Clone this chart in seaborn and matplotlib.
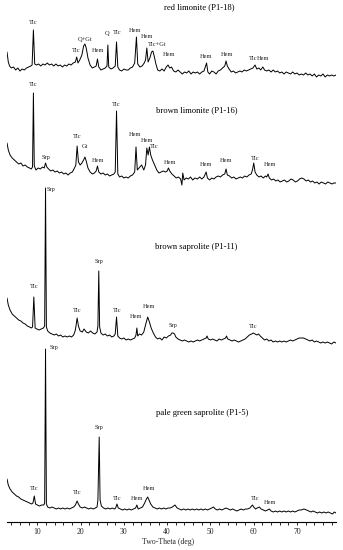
import matplotlib
matplotlib.use("Agg")
import numpy as np
import pandas as pd
import seaborn as sns
import matplotlib.pyplot as plt
from matplotlib.ticker import MultipleLocator

sns.set_style("white")
plt.rcParams['font.family'] = ['Liberation Serif', 'DejaVu Serif']

# ---------------- data ----------------
samples = ["red limonite (P1-18)", "brown limonite (P1-16)",
           "brown saprolite (P1-11)", "pale green saprolite (P1-5)"]

red_tt = [3.0, 3.3, 3.6, 4.0, 4.5, 5.0, 5.5, 6.0, 6.5, 7.0,
          7.5, 8.0, 8.5, 8.8, 9.1, 9.4, 9.8, 10.3, 10.8, 11.3,
          11.8, 12.3, 12.8, 13.3, 13.8, 14.3, 14.8, 15.3, 15.8, 16.3,
          16.8, 17.3, 17.8, 18.3, 18.8, 19.1, 19.4, 19.8, 20.3, 20.7,
          21.0, 21.3, 21.7, 22.2, 22.7, 23.2, 23.6, 23.9, 24.2, 24.7,
          25.2, 25.7, 26.1, 26.3, 26.5, 27.0, 27.5, 28.0, 28.3, 28.6,
          29.0, 29.5, 30.0, 30.5, 31.0, 31.5, 32.0, 32.5, 32.9, 33.2,
          33.7, 34.2, 34.7, 35.0, 35.3, 35.6, 36.0, 36.4, 36.7, 37.0,
          37.4, 37.8, 38.3, 38.8, 39.3, 39.8, 40.2, 40.6, 41.0, 41.5,
          42.0, 42.5, 43.0, 43.5, 44.0, 44.5, 45.0, 45.5, 46.0, 46.5,
          47.0, 47.5, 48.0, 48.5, 49.1, 49.4, 49.8, 50.3, 50.8, 51.3,
          51.8, 52.3, 52.8, 53.3, 53.6, 53.9, 54.3, 54.8, 55.3, 55.8,
          56.3, 56.8, 57.3, 57.8, 58.3, 58.8, 59.3, 59.8, 60.3, 60.7,
          61.2, 61.6, 62.1, 62.5, 63.0, 63.5, 64.0, 64.5, 65.0, 65.5,
          66.0, 66.5, 67.0, 67.5, 68.0, 68.5, 69.0, 69.5, 70.0, 70.5,
          71.0, 71.5, 72.0, 72.5, 73.0, 73.5, 74.0, 74.5, 75.0, 75.5,
          76.0, 76.5, 77.0, 77.5, 78.0, 78.5, 79.0]
red_int = [28, 18, 14, 12, 13, 10, 12, 9, 11, 10,
           12, 13, 14, 15, 50, 16, 15, 16, 14, 16,
           15, 17, 15, 16, 14, 16, 14, 15, 13, 15,
           14, 16, 15, 17, 18, 23, 17, 20, 25, 34,
           36, 32, 22, 15, 12, 13, 14, 21, 13, 10,
           11, 12, 14, 35, 13, 11, 12, 14, 38, 13,
           10, 9, 11, 10, 10, 12, 13, 17, 43, 16,
           13, 14, 17, 20, 32, 18, 22, 28, 29, 24,
           16, 10, 9, 11, 9, 13, 15, 12, 13, 9,
           8, 10, 8, 6, 8, 7, 9, 6, 8, 7,
           8, 6, 8, 9, 17, 8, 6, 9, 8, 6,
           9, 10, 12, 14, 19, 14, 11, 8, 9, 7,
           8, 9, 8, 10, 9, 10, 11, 12, 15, 11,
           12, 10, 13, 10, 9, 10, 8, 10, 8, 9,
           7, 8, 6, 8, 7, 6, 8, 6, 7, 5,
           6, 5, 7, 5, 6, 4, 6, 3, 5, 4,
           6, 3, 5, 4, 5, 4, 5]

brl_tt = [3.0, 3.3, 3.7, 4.2, 4.7, 5.2, 5.7, 6.2, 6.7, 7.2,
          7.7, 8.2, 8.6, 8.9, 9.1, 9.3, 9.7, 10.2, 10.7, 11.2,
          11.6, 11.9, 12.2, 12.6, 13.1, 13.6, 14.1, 14.6, 15.1, 15.6,
          16.1, 16.6, 17.1, 17.6, 18.1, 18.6, 18.9, 19.2, 19.5, 19.9,
          20.3, 20.7, 21.0, 21.3, 21.7, 22.2, 22.7, 23.2, 23.6, 23.9,
          24.2, 24.7, 25.2, 25.7, 26.2, 26.7, 27.2, 27.7, 28.0, 28.3,
          28.6, 29.0, 29.5, 30.0, 30.5, 31.0, 31.5, 32.0, 32.5, 32.8,
          33.1, 33.5, 34.1, 34.6, 35.0, 35.3, 35.6, 35.9, 36.2, 36.6,
          37.1, 37.6, 38.1, 38.6, 39.1, 39.6, 40.0, 40.3, 40.6, 41.1,
          41.6, 42.1, 42.6, 43.1, 43.4, 43.6, 43.9, 44.4, 44.9, 45.4,
          45.9, 46.4, 47.0, 47.5, 48.0, 48.5, 49.0, 49.3, 49.8, 50.3,
          50.8, 51.3, 51.8, 52.3, 52.8, 53.3, 53.6, 53.9, 54.4, 54.9,
          55.4, 55.9, 56.4, 56.9, 57.4, 57.9, 58.4, 58.9, 59.4, 59.7,
          60.0, 60.3, 60.7, 61.2, 61.7, 62.2, 62.7, 63.0, 63.3, 63.6,
          64.1, 64.6, 65.1, 65.6, 66.1, 66.6, 67.1, 67.6, 68.1, 68.6,
          69.1, 69.6, 70.1, 70.6, 71.1, 71.6, 72.1, 72.6, 73.1, 73.6,
          74.1, 74.6, 75.1, 75.6, 76.1, 76.6, 77.1, 77.6, 78.1, 78.5,
          79.0]
brl_int = [47, 40, 35, 32, 30, 28, 26, 27, 24, 25,
           23, 22, 21, 23, 97, 24, 20, 22, 21, 23,
           22, 27, 23, 21, 19, 20, 18, 19, 17, 18,
           16, 17, 15, 17, 18, 22, 25, 44, 28, 25,
           27, 30, 33, 29, 22, 18, 16, 17, 19, 24,
           18, 16, 17, 15, 16, 14, 15, 16, 18, 79,
           16, 13, 14, 12, 13, 12, 14, 15, 18, 43,
           20, 22, 25, 20, 25, 42, 35, 43, 35, 30,
           25, 20, 17, 18, 19, 18, 19, 22, 19, 16,
           14, 12, 13, 11, 5, 17, 10, 12, 11, 13,
           10, 12, 11, 13, 11, 13, 18, 12, 10, 12,
           11, 13, 14, 13, 15, 16, 21, 15, 14, 12,
           13, 11, 12, 13, 12, 14, 13, 15, 16, 20,
           27, 18, 15, 13, 14, 12, 14, 13, 16, 12,
           10, 11, 9, 10, 8, 9, 10, 8, 9, 11,
           10, 8, 9, 11, 12, 11, 9, 10, 8, 9,
           7, 8, 6, 8, 7, 6, 8, 7, 6, 7,
           7]

bsp_tt = [3.0, 3.3, 3.7, 4.2, 4.7, 5.2, 5.7, 6.2, 6.7, 7.2,
          7.7, 8.2, 8.6, 8.9, 9.2, 9.5, 9.9, 10.4, 10.9, 11.4,
          11.7, 11.9, 12.1, 12.4, 12.9, 13.4, 13.9, 14.4, 14.9, 15.4,
          15.9, 16.4, 16.9, 17.4, 17.9, 18.4, 18.8, 19.2, 19.5, 19.9,
          20.4, 20.8, 21.3, 21.8, 22.3, 22.8, 23.3, 23.8, 24.0, 24.2,
          24.4, 24.7, 25.2, 25.7, 26.2, 26.7, 27.2, 27.7, 28.0, 28.3,
          28.6, 29.0, 29.5, 30.0, 30.5, 31.0, 31.5, 32.0, 32.5, 32.8,
          33.0, 33.2, 33.6, 34.1, 34.6, 35.0, 35.5, 35.9, 36.3, 36.8,
          37.3, 37.8, 38.3, 38.8, 39.3, 39.8, 40.3, 40.8, 41.1, 41.4,
          41.7, 42.0, 42.5, 43.0, 43.5, 44.0, 44.5, 45.0, 45.5, 46.0,
          46.5, 47.0, 47.5, 48.0, 48.5, 49.0, 49.2, 49.5, 50.0, 50.5,
          51.0, 51.5, 52.0, 52.5, 53.0, 53.5, 53.7, 54.0, 54.5, 55.0,
          55.5, 56.0, 56.5, 57.0, 57.5, 58.0, 58.5, 59.0, 59.5, 59.9,
          60.3, 60.7, 61.1, 61.5, 62.0, 62.5, 63.0, 63.5, 64.0, 64.5,
          65.0, 65.5, 66.0, 66.5, 67.0, 67.5, 68.0, 68.5, 69.0, 69.5,
          70.0, 70.5, 71.0, 71.5, 72.0, 72.5, 73.0, 73.5, 74.0, 74.5,
          75.0, 75.5, 76.0, 76.5, 77.0, 77.5, 78.0, 78.5, 79.0]
bsp_int = [47, 40, 35, 31, 29, 27, 25, 24, 22, 21,
           19, 18, 17, 18, 48, 17, 16, 15, 16, 17,
           19, 157, 18, 14, 12, 11, 10, 11, 9, 10,
           8, 9, 8, 9, 8, 10, 15, 27, 19, 14,
           13, 16, 13, 12, 14, 12, 11, 13, 19, 74,
           18, 12, 10, 11, 9, 10, 8, 9, 11, 28,
           9, 7, 6, 7, 5, 6, 5, 6, 7, 10,
           17, 9, 11, 10, 13, 20, 28, 23, 17, 12,
           8, 6, 7, 5, 8, 7, 9, 10, 12, 12,
           11, 8, 6, 5, 4, 5, 4, 3, 4, 3,
           4, 5, 4, 5, 6, 7, 9, 6, 5, 6,
           5, 4, 6, 5, 6, 7, 9, 6, 5, 4,
           5, 4, 3, 4, 5, 6, 8, 10, 11, 12,
           11, 10, 11, 9, 7, 5, 6, 4, 5, 3,
           4, 3, 4, 3, 4, 3, 4, 5, 4, 5,
           6, 7, 7, 7, 6, 5, 4, 5, 3, 4,
           3, 2, 3, 2, 3, 2, 1, 3, 2]

pgs_tt = [3.0, 3.3, 3.7, 4.2, 4.7, 5.2, 5.7, 6.2, 6.7, 7.2,
          7.7, 8.2, 8.7, 9.0, 9.3, 9.6, 10.0, 10.5, 11.0, 11.5,
          11.7, 11.9, 12.1, 12.4, 12.9, 13.4, 13.9, 14.4, 14.9, 15.4,
          15.9, 16.4, 16.9, 17.4, 17.9, 18.4, 18.8, 19.2, 19.5, 19.9,
          20.4, 20.9, 21.4, 21.9, 22.4, 22.9, 23.4, 23.8, 24.0, 24.3,
          24.5, 24.8, 25.3, 25.8, 26.3, 26.8, 27.3, 27.8, 28.1, 28.4,
          28.7, 29.2, 29.7, 30.2, 30.7, 31.2, 31.7, 32.2, 32.7, 33.0,
          33.3, 33.8, 34.3, 34.8, 35.2, 35.5, 35.8, 36.2, 36.7, 37.2,
          37.7, 38.2, 38.7, 39.2, 39.7, 40.2, 40.7, 41.2, 41.8, 42.3,
          42.8, 43.3, 43.8, 44.3, 44.8, 45.3, 45.8, 46.3, 46.8, 47.3,
          47.8, 48.3, 48.8, 49.3, 49.8, 50.3, 50.7, 51.1, 51.6, 52.1,
          52.6, 53.1, 53.6, 54.1, 54.6, 55.1, 55.6, 56.1, 56.6, 57.1,
          57.6, 58.1, 58.6, 59.1, 59.5, 59.7, 60.0, 60.4, 60.8, 61.3,
          61.7, 62.2, 62.7, 63.2, 63.6, 64.0, 64.5, 65.0, 65.5, 66.0,
          66.5, 67.0, 67.5, 68.0, 68.5, 69.0, 69.5, 70.0, 70.5, 71.0,
          71.6, 72.2, 72.7, 73.2, 73.7, 74.2, 74.7, 75.2, 75.7, 76.2,
          76.7, 77.2, 77.7, 78.2, 78.6, 79.0]
pgs_int = [36, 30, 26, 23, 21, 19, 18, 16, 15, 14,
           13, 12, 11, 12, 19, 11, 10, 9, 10, 10,
           12, 166, 11, 8, 7, 8, 7, 6, 7, 6,
           7, 6, 7, 6, 7, 8, 10, 14, 11, 8,
           7, 8, 7, 6, 7, 6, 7, 8, 15, 78,
           15, 9, 7, 6, 7, 6, 7, 6, 7, 11,
           7, 6, 5, 6, 5, 6, 5, 6, 7, 10,
           6, 7, 8, 12, 16, 18, 15, 11, 8, 7,
           6, 7, 6, 7, 6, 7, 7, 8, 10, 7,
           6, 5, 6, 5, 6, 5, 6, 5, 6, 5,
           6, 5, 6, 5, 6, 7, 8, 6, 5, 6,
           5, 6, 7, 6, 5, 6, 5, 4, 5, 6,
           5, 6, 6, 7, 9, 10, 8, 6, 7, 8,
           6, 5, 4, 5, 6, 4, 3, 4, 3, 4,
           3, 4, 3, 4, 3, 4, 3, 4, 5, 5,
           6, 5, 4, 3, 4, 3, 2, 3, 2, 3,
           2, 3, 2, 1, 3, 2]

# phase labels: text, two-theta of label, label height (intensity units)
red_lab = ["Tlc", "Q+Gt", "Tlc", "Hem", "Q", "Tlc", "Hem", "Hem", "Tlc+Gt",
           "Hem", "Hem", "Hem", "Tlc", "Hem"]
red_lab_tt = [9.1, 21.0, 19.1, 24.0, 26.2, 28.5, 32.6, 35.4, 37.7,
              40.4, 49.0, 53.7, 59.8, 62.2]
red_lab_h = [58, 41, 29, 29, 47, 47, 50, 43, 36, 26, 23, 26, 21, 21]

brl_lab = ["Tlc", "Srp", "Tlc", "Gt", "Hem", "Tlc", "Hem", "Hem", "Tlc",
           "Hem", "Hem", "Hem", "Tlc", "Hem"]
brl_lab_tt = [9.1, 11.9, 19.2, 21.0, 24.1, 28.2, 32.6, 35.3, 37.0,
              40.6, 49.0, 53.6, 60.3, 63.8]
brl_lab_h = [106, 33, 53, 44, 29, 86, 55, 49, 43, 28, 26, 29, 32, 26]

bsp_lab = ["Tlc", "Srp", "Tlc", "Srp", "Tlc", "Hem", "Hem", "Srp", "Tlc"]
bsp_lab_tt = [9.2, 13.2, 19.2, 24.2, 28.5, 32.8, 35.7, 41.4, 59.9]
bsp_lab_h = [58, 156, 34, 83, 35, 29, 38, 19, 19]

pgs_lab = ["Tlc", "Srp", "Tlc", "Srp", "Tlc", "Hem", "Hem", "Tlc", "Hem"]
pgs_lab_tt = [9.3, 13.8, 19.2, 24.3, 28.4, 33.1, 35.8, 60.3, 63.8]
pgs_lab_h = [27, 168, 22, 88, 17, 17, 27, 16, 12]

# sample-title heights (intensity units) and two-theta centre
title_tt = [47.4, 46.8, 46.6, 48.0]
title_h = [73, 80, 98, 102]

# ---------------- layout ----------------
OFFSETS = [442, 332, 177, 7]   # vertical stacking offsets

traces = [(red_tt, red_int, red_lab, red_lab_tt, red_lab_h),
          (brl_tt, brl_int, brl_lab, brl_lab_tt, brl_lab_h),
          (bsp_tt, bsp_int, bsp_lab, bsp_lab_tt, bsp_lab_h),
          (pgs_tt, pgs_int, pgs_lab, pgs_lab_tt, pgs_lab_h)]

frames = []
for name, (tt, it, *_), off in zip(samples, traces, OFFSETS):
    assert len(tt) == len(it), (name, len(tt), len(it))
    frames.append(pd.DataFrame({"sample": name, "two_theta": tt,
                                "y": np.asarray(it, float) + off}))
df = pd.concat(frames, ignore_index=True)

fig = plt.figure(figsize=(3.43, 5.50), dpi=100)
ax = fig.add_axes([7 / 343, 28 / 550, 329 / 343, 522 / 550])

for name in samples:
    sub = df[df["sample"] == name]
    sns.lineplot(data=sub, x="two_theta", y="y", estimator=None, sort=False,
                 color="black", lw=0.7, ax=ax, legend=False)

for (tt, it, labs, ltt, lh), off, name, ttt, th in zip(traces, OFFSETS, samples,
                                                       title_tt, title_h):
    for s, x, h in zip(labs, ltt, lh):
        ax.text(x, h + off, s, ha="center", va="center", fontsize=4.6,
                color="#222222")
    ax.text(ttt, th + off, name, ha="center", va="center", fontsize=6.2,
            color="black")

ax.set_xlim(3, 79)
ax.set_ylim(0, 522)
for sp in ["left", "top", "right"]:
    ax.spines[sp].set_visible(False)
ax.spines["bottom"].set_linewidth(0.8)
ax.spines["bottom"].set_color("black")
ax.set_yticks([])
ax.xaxis.set_major_locator(MultipleLocator(10))
ax.xaxis.set_minor_locator(MultipleLocator(2))
ax.tick_params(axis="x", which="both", direction="out", length=2.4, width=0.6,
               color="black", bottom=True, labelsize=5.5, pad=2.0)
ax.set_ylabel("")
ax.set_xlabel("Two-Theta (deg)", fontsize=5.6)
ax.xaxis.set_label_coords(0.489, -0.0305)

fig.savefig("out.png", dpi=100)
